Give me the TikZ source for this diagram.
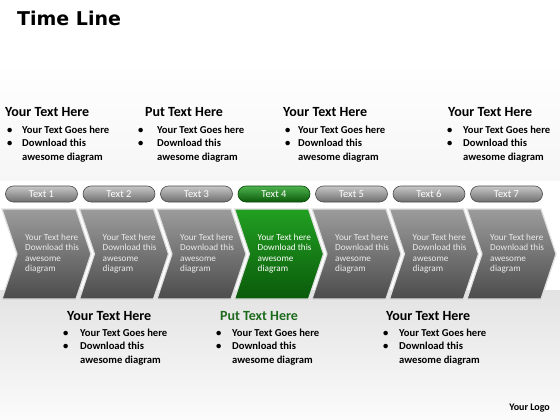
\documentclass[tikz,border=0pt]{standalone}
\usepackage{fontspec}
\setmainfont{Carlito}
\newfontfamily\titlefont{DejaVu Sans}
\usetikzlibrary{shapes.misc}
\definecolor{chevtop}{HTML}{9C9C9C}
\definecolor{chevbot}{HTML}{4C4C4C}
\definecolor{greentop}{HTML}{22A022}
\definecolor{greenbot}{HTML}{0A5A0A}
\definecolor{headgreen}{HTML}{1E6B1E}
\definecolor{pilltop}{HTML}{C8C8C8}
\definecolor{pillbot}{HTML}{6E6E6E}
\newcommand\tblk[7]{%
  \node[head,text=#7] (#1h) at (#2,#5) {#6};
  \node[body] (#1a) at (#4,#5+16) {Your Text Goes here};
  \node[body] (#1b) at (#4,#5+29.5) {Download this};
  \node[body] (#1c) at (#4,#5+43) {awesome diagram};
  \node[body] (#1p) at (#3,#5+16) {\textbullet};
  \node[body] (#1q) at (#3,#5+29.5) {\textbullet};
}
\begin{document}
\begin{tikzpicture}[x=1pt,y=-1pt,
  head/.style={anchor=base west,inner sep=0pt,font=\bfseries\fontsize{14}{16}\selectfont},
  body/.style={anchor=base west,inner sep=0pt,font=\bfseries\fontsize{10.6}{12}\selectfont,text=black},
  chevgrey/.style={top color=chevtop,bottom color=chevbot},
  chevgreen/.style={top color=greentop,bottom color=greenbot},
  pillgrey/.style={top color=pilltop,bottom color=pillbot,draw=gray!60!black},
  pillgreen/.style={top color=greentop!80!white,bottom color=greenbot,draw=greenbot!80!black},
  pill/.style={rounded rectangle,minimum width=72pt,minimum height=16pt,inner sep=0pt,line width=0.6pt,
    font=\fontsize{10.5}{12}\selectfont,text=white},
  chevtext/.style={anchor=north west,inner sep=0pt,align=left,font=\fontsize{9.2}{10.4}\selectfont}
]
\useasboundingbox (0,0) rectangle (560,420);
\fill[white] (0,0) rectangle (560,420);
\shade[top color=white,bottom color=gray!7] (0,60) rectangle (560,180);
\shade[top color=gray!22,bottom color=white!97!gray] (0,290) rectangle (560,420);

% title
\node[anchor=base west,inner sep=0pt,font=\titlefont\bfseries\fontsize{19}{22}\selectfont] (title) at (17,26) {Time Line};

% top text blocks
\tblk{t1}{5}{7}{22}{117}{Your Text Here}{black}
\tblk{t2}{145}{138}{157}{117}{Put Text Here}{black}
\tblk{t3}{283}{285}{298}{117}{Your Text Here}{black}
\tblk{t4}{448}{447}{463}{117}{Your Text Here}{black}

% chevrons and pills
\foreach \i/\cs/\ps/\tc in {0/chevgrey/pillgrey/gray!15,1/chevgrey/pillgrey/gray!15,2/chevgrey/pillgrey/gray!15,
  3/chevgreen/pillgreen/white,4/chevgrey/pillgrey/gray!15,5/chevgrey/pillgrey/gray!15,6/chevgrey/pillgrey/gray!15}{
  \pgfmathsetmacro\L{2+77.5*\i}
  \shade[\cs] (\L,209) -- ++(74,0) -- ++(15,45) -- ++(-15,45) -- ++(-74,0) -- ++(15,-45) -- cycle;
  \draw[white!75!gray,line width=1.2pt,line join=miter] (\L,209) -- ++(74,0) -- ++(15,45) -- ++(-15,45) -- ++(-74,0) -- ++(15,-45) -- cycle;
  \pgfmathtruncatemacro\n{\i+1}
  \node[pill,\ps] (p\n) at (\L+39.5,194) {Text \n};
  \node[chevtext,text=\tc] (c\n) at (\L+23,234) {Your Text here\\Download this\\awesome\\diagram};
}

% bottom text blocks
\tblk{b1}{67}{63}{80}{320}{Your Text Here}{black}
\tblk{b2}{220}{216}{232}{320}{Put Text Here}{headgreen}
\tblk{b3}{386}{383}{399}{320}{Your Text Here}{black}

\node[anchor=base east,inner sep=0pt,font=\bfseries\fontsize{10}{11}\selectfont] (logo) at (550,410) {Your Logo};
\end{tikzpicture}
\end{document}
